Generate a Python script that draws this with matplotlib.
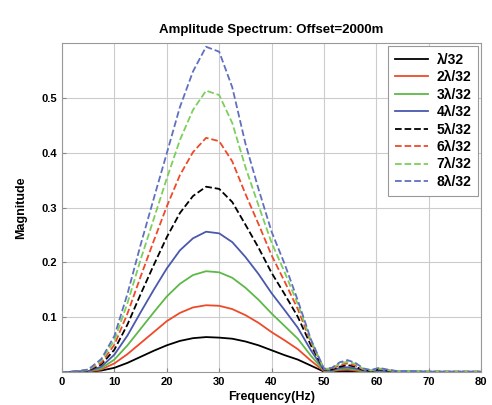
import numpy as np
import matplotlib.pyplot as plt

plt.rcParams['font.family'] = ['Liberation Sans', 'DejaVu Sans']
plt.rcParams['font.weight'] = 'bold'

freq = [0, 2.5, 5, 7.5, 10, 12.5, 15, 17.5, 20, 22.5, 25, 27.5, 30, 32.5, 35, 37.5, 40,
        42.5, 45, 47.5, 50, 51.5, 53, 54.5, 56, 57.5, 59, 60.5, 62, 64, 67, 70, 75, 80]

s1 = [0, 0, 0.001, 0.003, 0.008, 0.017, 0.028, 0.039, 0.049, 0.057, 0.062, 0.064, 0.063, 0.061, 0.056, 0.049, 0.040,
      0.031, 0.023, 0.012, 0.001, 0.001, 0.002, 0.002, 0.002, 0.001, 0, 0.001, 0, 0, 0, 0, 0, 0]
s2 = [0, 0.001, 0.001, 0.005, 0.016, 0.033, 0.053, 0.073, 0.093, 0.108, 0.118, 0.122, 0.121, 0.115, 0.104, 0.090, 0.073,
      0.058, 0.042, 0.021, 0.002, 0.002, 0.004, 0.005, 0.003, 0.001, 0.001, 0.002, 0.001, 0, 0, 0, 0, 0]
s3 = [0, 0.001, 0.002, 0.007, 0.023, 0.049, 0.079, 0.109, 0.138, 0.161, 0.177, 0.184, 0.182, 0.172, 0.154, 0.132, 0.107,
      0.084, 0.061, 0.030, 0.003, 0.002, 0.006, 0.007, 0.005, 0.002, 0.001, 0.002, 0.002, 0.001, 0.001, 0, 0, 0]
s4 = [0, 0.001, 0.002, 0.010, 0.032, 0.067, 0.109, 0.150, 0.189, 0.222, 0.244, 0.256, 0.253, 0.237, 0.210, 0.179, 0.144,
      0.113, 0.081, 0.040, 0.004, 0.003, 0.008, 0.009, 0.007, 0.003, 0.002, 0.003, 0.002, 0.001, 0.001, 0, 0, 0]
s5 = [0, 0.001, 0.003, 0.014, 0.041, 0.087, 0.142, 0.195, 0.246, 0.290, 0.321, 0.338, 0.334, 0.310, 0.269, 0.227, 0.181,
      0.142, 0.101, 0.049, 0.005, 0.005, 0.010, 0.013, 0.010, 0.004, 0.002, 0.005, 0.003, 0.001, 0.001, 0.001, 0.001, 0.001]
s6 = [0, 0.001, 0.004, 0.017, 0.050, 0.107, 0.174, 0.239, 0.302, 0.359, 0.401, 0.427, 0.421, 0.384, 0.325, 0.270, 0.213,
      0.165, 0.115, 0.055, 0.006, 0.006, 0.013, 0.016, 0.012, 0.005, 0.003, 0.006, 0.004, 0.001, 0.001, 0.001, 0.001, 0.001]
s7 = [0, 0.001, 0.004, 0.021, 0.058, 0.126, 0.205, 0.279, 0.353, 0.423, 0.478, 0.513, 0.505, 0.454, 0.374, 0.304, 0.236,
      0.182, 0.124, 0.058, 0.006, 0.007, 0.016, 0.019, 0.015, 0.006, 0.003, 0.007, 0.004, 0.002, 0.002, 0.001, 0.001, 0.001]
s8 = [0, 0.001, 0.005, 0.024, 0.066, 0.143, 0.232, 0.316, 0.399, 0.483, 0.548, 0.593, 0.584, 0.519, 0.417, 0.334, 0.256,
      0.197, 0.131, 0.060, 0.006, 0.008, 0.018, 0.022, 0.017, 0.007, 0.004, 0.008, 0.005, 0.002, 0.002, 0.001, 0.001, 0.001]

labels = ['λ/32', '2λ/32', '3λ/32', '4λ/32', '5λ/32', '6λ/32', '7λ/32', '8λ/32']
series = [s1, s2, s3, s4, s5, s6, s7, s8]
colors = ['black', '#ee4a2a', '#5cb948', '#4a58ae', 'black', '#ee4a2a', '#7ccf5a', '#6070c0']
styles = ['-', '-', '-', '-', '--', '--', '--', '--']

fig = plt.figure(figsize=(4.92, 4.05), dpi=100)
ax = fig.add_axes([0.126, 0.081, 0.852, 0.813])

for s, c, ls, lab in zip(series, colors, styles, labels):
    ax.plot(freq, s, color=c, linestyle=ls, linewidth=1.3, label=lab)

ax.set_xlim(0, 80)
ax.set_ylim(0, 0.6)
ax.set_xticks(np.arange(0, 81, 10))
ax.set_yticks([0.1, 0.2, 0.3, 0.4, 0.5])
ax.grid(True, color='#cccccc', linewidth=0.8)
ax.tick_params(direction='in', labelsize=8, length=3, color='#888888')
for sp in ax.spines.values():
    sp.set_color('#999999')
    sp.set_linewidth(0.8)

ax.set_title('Amplitude Spectrum: Offset=2000m', fontsize=9.5, fontweight='bold', pad=7)
ax.set_xlabel('Frequency(Hz)', fontsize=9, fontweight='bold', labelpad=3)
ax.set_ylabel('Magnitude', fontsize=9, fontweight='bold', labelpad=10)

leg = ax.legend(loc='upper right', fontsize=10, handlelength=2.4, handletextpad=0.6,
                labelspacing=0.25, borderpad=0.5, borderaxespad=0.2,
                fancybox=False, framealpha=1, edgecolor='#999999')
leg.get_frame().set_linewidth(0.8)

fig.savefig('out.png', dpi=100)
